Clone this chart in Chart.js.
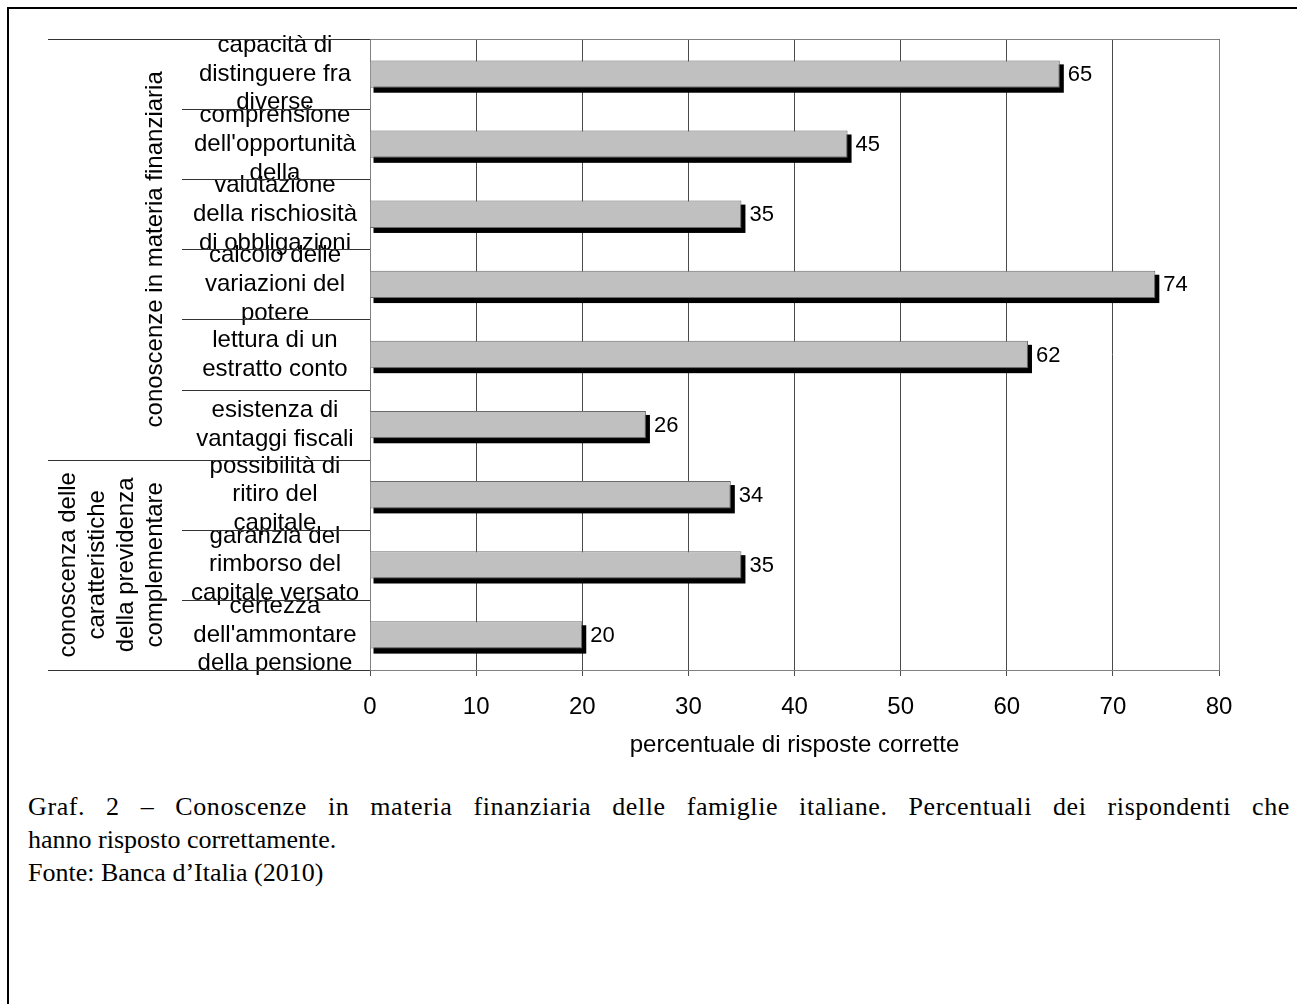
<!DOCTYPE html>
<html><head><meta charset="utf-8">
<script src="https://cdn.jsdelivr.net/npm/chart.js@4.4.0/dist/chart.umd.min.js"></script>
<style>
html,body{margin:0;padding:0;background:#fff;width:1297px;height:1004px;overflow:hidden;}
#frame{position:absolute;left:7px;top:7px;width:1320px;height:1020px;border-left:2px solid #000;border-top:2px solid #000;}
#wrap{position:absolute;left:0;top:0;width:1297px;height:760px;}
#caption{position:absolute;left:28px;top:790px;width:1262px;font-family:"Liberation Serif","Times New Roman",serif;font-size:26px;line-height:33px;color:#000;white-space:nowrap;}
#caption .j{text-align:justify;text-align-last:justify;white-space:normal;letter-spacing:0.6px;}
</style></head>
<body>
<div id="frame"></div>
<div id="wrap"><canvas id="c" width="1297" height="760"></canvas></div>
<div id="caption"><div class="j">Graf. 2 – Conoscenze in materia finanziaria delle famiglie italiane. Percentuali dei rispondenti che</div><div>hanno risposto correttamente.</div><div>Fonte: Banca d’Italia (2010)</div></div>
<script>
const categories = [
  ["capacità di", "distinguere fra", "diverse"],
  ["comprensione", "dell'opportunità", "della"],
  ["valutazione", "della rischiosità", "di obbligazioni"],
  ["calcolo delle", "variazioni del", "potere"],
  ["lettura di un", "estratto conto"],
  ["esistenza di", "vantaggi fiscali"],
  ["possibilità di", "ritiro del", "capitale"],
  ["garanzia del", "rimborso del", "capitale versato"],
  ["certezza", "dell'ammontare", "della pensione"]
];
const values = [65, 45, 35, 74, 62, 26, 34, 35, 20];
const groupLabels = [
  ["conoscenze in materia finanziaria"],
  ["conoscenza delle", "caratteristiche", "della previdenza", "complementare"]
];
const groupSizes = [6, 3];
const xMin = 0, xMax = 80, xStep = 10;
const xTitle = "percentuale di risposte corrette";

const FONT = "'Liberation Sans', Arial, sans-serif";

const decor = {
  id: 'decor',
  beforeDatasetsDraw(chart) {
    const ctx = chart.ctx;
    const meta = chart.getDatasetMeta(0);
    ctx.save();
    ctx.fillStyle = '#000';
    meta.data.forEach(el => {
      const p = el.getProps(['x', 'y', 'base', 'height'], true);
      const top = p.y - p.height / 2;
      ctx.fillRect(p.base + 3, top + 4, (p.x - p.base) + 1, p.height + 1);
    });
    ctx.restore();
  },
  afterDatasetsDraw(chart) {
    const ctx = chart.ctx;
    const meta = chart.getDatasetMeta(0);
    ctx.save();
    ctx.fillStyle = '#000';
    ctx.font = "22px " + FONT;
    ctx.textAlign = 'left';
    ctx.textBaseline = 'middle';
    meta.data.forEach((el, i) => {
      const p = el.getProps(['x', 'y'], true);
      ctx.fillText(String(values[i]), p.x + 8, p.y + 1);
    });
    ctx.restore();
  },
  afterDraw(chart) {
    const ctx = chart.ctx;
    const a = chart.chartArea;
    const ys = chart.scales.y;
    ctx.save();
    ctx.lineWidth = 1;
    ctx.strokeStyle = '#808080';
    ctx.beginPath();
    ctx.moveTo(a.left, Math.round(a.top) + 0.5);
    ctx.lineTo(Math.round(a.right) + 0.5, Math.round(a.top) + 0.5);
    ctx.lineTo(Math.round(a.right) + 0.5, a.bottom);
    ctx.stroke();
    const n = categories.length;
    const bound = [];
    bound.push(a.top);
    for (let i = 1; i < n; i++) bound.push((ys.getPixelForValue(i - 1) + ys.getPixelForValue(i)) / 2);
    bound.push(a.bottom);
    const groupStarts = [0];
    let acc = 0;
    groupSizes.forEach(s => { acc += s; groupStarts.push(acc); });
    ctx.strokeStyle = '#333';
    bound.forEach((y, i) => {
      const isGroup = groupStarts.includes(i);
      const x0 = isGroup ? 48 : 182;
      const yy = Math.round(y) + 0.5;
      ctx.beginPath();
      ctx.moveTo(x0, yy);
      ctx.lineTo(a.left, yy);
      ctx.stroke();
    });
    ctx.fillStyle = '#000';
    ctx.font = "24px " + FONT;
    ctx.textAlign = 'center';
    ctx.textBaseline = 'middle';
    groupLabels.forEach((lines, g) => {
      const y0 = bound[groupStarts[g]];
      const y1 = bound[groupStarts[g + 1]];
      const cy = (y0 + y1) / 2;
      lines.forEach((t, k) => {
        const cx = 155 - 29 * (lines.length - 1 - k);
        ctx.save();
        ctx.translate(cx, cy);
        ctx.rotate(-Math.PI / 2);
        ctx.fillText(t, 0, 0);
        ctx.restore();
      });
    });
    ctx.restore();
  }
};

new Chart(document.getElementById('c'), {
  type: 'bar',
  data: {
    labels: categories,
    datasets: [{
      data: values,
      backgroundColor: '#C0C0C0',
      borderColor: '#6a6a6a',
      borderWidth: 1,
      categoryPercentage: 1,
      barPercentage: 0.39
    }]
  },
  options: {
    indexAxis: 'y',
    responsive: false,
    animation: false,
    devicePixelRatio: 1,
    layout: { padding: { top: 39, right: 78, left: 0, bottom: 0 } },
    plugins: { legend: { display: false }, tooltip: { enabled: false } },
    scales: {
      x: {
        min: xMin, max: xMax,
        ticks: { stepSize: xStep, color: '#000', font: { family: FONT, size: 24 }, padding: 17 },
        grid: { color: '#4a4a4a', lineWidth: 1, tickLength: 6, tickColor: '#4a4a4a' },
        border: { color: '#808080', width: 1 },
        title: { display: true, text: xTitle, color: '#000', font: { family: FONT, size: 24 }, padding: { top: 0, bottom: 0 } },
        afterFit: s => { s.height = 90; s.paddingLeft = 0; s.paddingRight = 0; }
      },
      y: {
        grid: { display: false, drawTicks: false },
        border: { display: true, color: '#808080', width: 1 },
        ticks: { color: '#000', font: { family: FONT, size: 24 }, crossAlign: 'center', padding: 11, autoSkip: false },
        afterFit: s => { s.width = 370; s.paddingTop = 0; s.paddingBottom = 0; }
      }
    }
  },
  plugins: [decor]
});
</script>
</body></html>
